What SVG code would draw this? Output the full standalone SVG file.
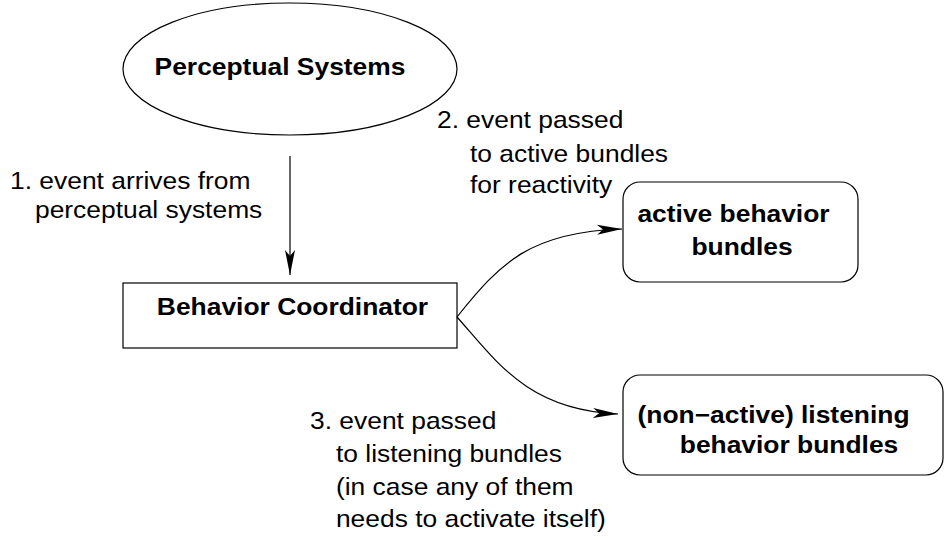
<svg xmlns="http://www.w3.org/2000/svg" width="948" height="540" viewBox="0 0 948 540">
  <style>
    .shape { fill: #ffffff; stroke: #000000; stroke-width: 1.2; }
    .edge { fill: none; stroke: #000000; stroke-width: 1.2; }
    .title { font-family: "Liberation Sans", Arial, sans-serif; font-weight: bold; font-size: 24px; fill: #000000; text-anchor: middle; }
    .note { font-family: "Liberation Sans", Arial, sans-serif; font-size: 24px; fill: #000000; }
  </style>
  <defs>
    <marker id="arrow" markerUnits="userSpaceOnUse" markerWidth="30" markerHeight="14" viewBox="-26 -7 28 14" refX="0" refY="0" orient="auto">
      <path d="M0,0 L-25,-5 L-19,0 L-25,5 Z" fill="#000000"/>
    </marker>
  </defs>
  <rect width="948" height="540" fill="#ffffff"/>

  <!-- nodes -->
  <g id="perceptual-systems">
    <ellipse class="shape" cx="290" cy="69" rx="167" ry="66"/>
    <text class="title" transform="translate(280,75) scale(1.1,1)">Perceptual Systems</text>
  </g>

  <g id="behavior-coordinator">
    <rect class="shape" x="123" y="283" width="334" height="65"/>
    <text class="title" transform="translate(292.5,315) scale(1.1,1)">Behavior Coordinator</text>
  </g>

  <g id="active-bundles">
    <rect class="shape" x="623" y="182" width="235" height="100" rx="17" ry="17"/>
    <text class="title" transform="translate(733.5,222) scale(1.1,1)">active behavior</text>
    <text class="title" transform="translate(742,255) scale(1.1,1)">bundles</text>
  </g>

  <g id="listening-bundles">
    <rect class="shape" x="623" y="375" width="320" height="100" rx="17" ry="17"/>
    <text class="title" transform="translate(773.5,423) scale(1.1,1)">(non−active) listening</text>
    <text class="title" transform="translate(789,453) scale(1.1,1)">behavior bundles</text>
  </g>

  <!-- connectors -->
  <g id="connectors">
    <path class="edge" d="M290,156 L290,275" marker-end="url(#arrow)"/>
    <path class="edge" d="M457,317 C500,263 530,232 622,229" marker-end="url(#arrow)"/>
    <path class="edge" d="M457,317 C497,362 528,410 618,414" marker-end="url(#arrow)"/>
  </g>

  <!-- step labels -->
  <g id="labels">
    <text class="note" transform="translate(10,189) scale(1.1,1)">
      <tspan x="0" y="0">1. event arrives from</tspan>
      <tspan x="22.7" y="29">perceptual systems</tspan>
    </text>
    <text class="note" transform="translate(437,128) scale(1.1,1)">
      <tspan x="0" y="0">2. event passed</tspan>
      <tspan x="30" y="34">to active bundles</tspan>
      <tspan x="30" y="65">for reactivity</tspan>
    </text>
    <text class="note" transform="translate(310,429) scale(1.1,1)">
      <tspan x="0" y="0">3. event passed</tspan>
      <tspan x="23.6" y="33">to listening bundles</tspan>
      <tspan x="23.6" y="66">(in case any of them</tspan>
      <tspan x="23.6" y="98">needs to activate itself)</tspan>
    </text>
  </g>
</svg>
